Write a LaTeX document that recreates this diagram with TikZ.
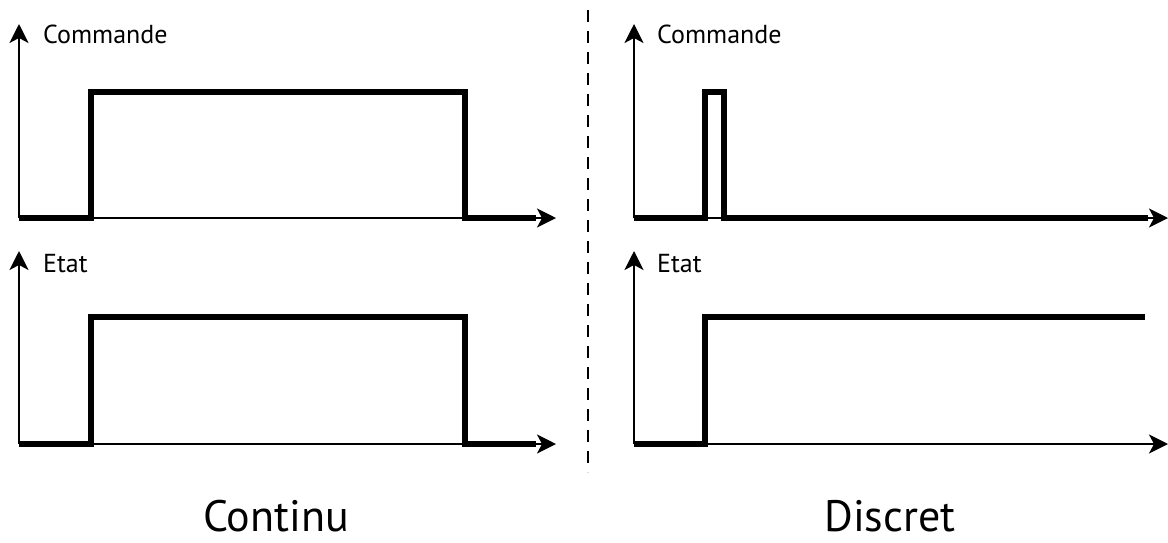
\documentclass[tikz,border=0pt]{standalone}
\usepackage{fontspec}
\setmainfont{PT Sans}
\usetikzlibrary{arrows.meta}
\begin{document}
\begin{tikzpicture}[x=1pt,y=-1pt,
  axis/.style={line width=2pt,-{Stealth[length=19pt,width=19pt,inset=5pt]}},
  signal/.style={line width=6pt,line cap=butt,line join=miter},
  label/.style={anchor=west,font=\fontsize{26}{30}\selectfont,inner sep=0pt},
  title/.style={font=\fontsize{44}{52}\selectfont,inner sep=0pt}]
\useasboundingbox (0,0) rectangle (1168,542);
% left panel, command
\coordinate (o1) at (19,218);
\draw[axis] (o1) -- (19,24);
\draw[axis] (o1) -- (556,218);
\node[label] (c1) at (43,34) {Commande};
\draw[signal] (o1) -- (91,218) -- (91,92) -- (465,92) -- (465,218) -- (536,218);
% left panel, state
\coordinate (o2) at (19,444);
\draw[axis] (o2) -- (19,251);
\draw[axis] (o2) -- (556,444);
\node[label] (e1) at (43,264) {Etat};
\draw[signal] (o2) -- (91,444) -- (91,317) -- (465,317) -- (465,444) -- (536,444);
% separator
\draw[line width=2pt,dash pattern=on 12pt off 9pt] (588,10) -- (588,472);
% right panel, command
\coordinate (o3) at (634,218);
\draw[axis] (o3) -- (634,24);
\draw[axis] (o3) -- (1168,218);
\node[label] (c2) at (657,34) {Commande};
\draw[signal] (o3) -- (705,218) -- (705,92) -- (724,92) -- (724,218) -- (1148,218);
% right panel, state
\coordinate (o4) at (634,444);
\draw[axis] (o4) -- (634,251);
\draw[axis] (o4) -- (1168,444);
\node[label] (e2) at (657,264) {Etat};
\draw[signal] (o4) -- (705,444) -- (705,317) -- (1145,317);
% titles
\node[title] (t1) at (276,516) {Continu};
\node[title] (t2) at (890,516) {Discret};
\end{tikzpicture}
\end{document}
